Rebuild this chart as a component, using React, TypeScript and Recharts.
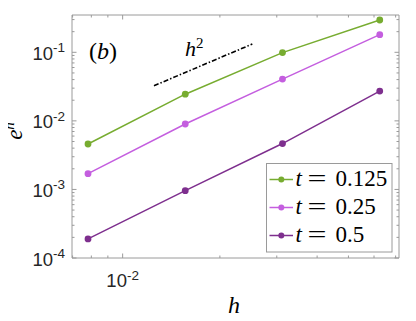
import React from 'react';
import { LineChart, Line, XAxis, YAxis, ReferenceLine, Legend } from 'recharts';

const hValues = [0.0078125, 0.015625, 0.03125, 0.0625];
const errT0125 = [0.0046, 0.0245, 0.099, 0.296];
const errT025 = [0.0017, 0.009, 0.0407, 0.181];
const errT05 = [0.00019, 0.00096, 0.00467, 0.0272];
const seriesKeys = ['a', 'b', 'c'];
const seriesNames = ['0.125', '0.25', '0.5'];
const seriesColors = ['#77AC30', '#C45EDF', '#7E2F8E'];
const xTicks = [0.007, 0.008, 0.009, 0.01, 0.02, 0.03, 0.04, 0.05, 0.06, 0.07];
const yTicks = [
  0.0001, 0.0002, 0.0003, 0.0004, 0.0005, 0.0006, 0.0007, 0.0008, 0.0009,
  0.001, 0.002, 0.003, 0.004, 0.005, 0.006, 0.007, 0.008, 0.009,
  0.01, 0.02, 0.03, 0.04, 0.05, 0.06, 0.07, 0.08, 0.09,
  0.1, 0.2, 0.3,
];
const xDomain = [0.00697, 0.0717];
const yDomain = [0.0001, 0.35];
const slopeRef = [
  { x: 0.0125, y: 0.0325 },
  { x: 0.0252, y: 0.132 },
];

const data = hValues.map((h, i) => ({ h, a: errT0125[i], b: errT025[i], c: errT05[i] }));

const AXIS = '#9a9a9a';
const SANS = '"Liberation Sans", Arial, Helvetica, sans-serif';
const SERIF = '"Liberation Serif", "DejaVu Serif", "Times New Roman", serif';
const MAJ = 4.5;
const MIN = 2.5;
const TICK_FS = 18.5;
const SUP_FS = 13.5;

const lg = (v: number) => Math.log10(v);
const isMajor = (v: number) => Math.abs(lg(v) - Math.round(lg(v))) < 1e-6;
const expOf = (v: number) => Math.round(lg(v));

const TickBottom = (props: any) => {
  const { x, y, payload } = props;
  const v = payload.value;
  const m = isMajor(v);
  return (
    <g>
      <line x1={x} x2={x} y1={y} y2={y - (m ? MAJ : MIN)} stroke={AXIS} strokeWidth={1} />
      {m && (
        <text x={x} y={y + 29} textAnchor="middle" fontFamily={SANS} fontSize={TICK_FS} fill="#262626">
          10<tspan dy={-7.5} fontSize={SUP_FS}>{String(expOf(v))}</tspan>
        </text>
      )}
    </g>
  );
};

const TickTop = (props: any) => {
  const { x, y, payload } = props;
  const m = isMajor(payload.value);
  return <line x1={x} x2={x} y1={y} y2={y + (m ? MAJ : MIN)} stroke={AXIS} strokeWidth={1} />;
};

const TickLeft = (props: any) => {
  const { x, y, payload } = props;
  const v = payload.value;
  const m = isMajor(v);
  return (
    <g>
      <line x1={x} x2={x + (m ? MAJ : MIN)} y1={y} y2={y} stroke={AXIS} strokeWidth={1} />
      {m && (
        <text x={x - 7} y={y + 7.5} textAnchor="end" fontFamily={SANS} fontSize={TICK_FS} fill="#262626">
          10<tspan dy={-7.5} fontSize={SUP_FS}>{String(expOf(v))}</tspan>
        </text>
      )}
    </g>
  );
};

const TickRight = (props: any) => {
  const { x, y, payload } = props;
  const m = isMajor(payload.value);
  return <line x1={x} x2={x - (m ? MAJ : MIN)} y1={y} y2={y} stroke={AXIS} strokeWidth={1} />;
};

const LegendBox = (props: any) => {
  const payload = props.payload || [];
  return (
    <svg width={127} height={90} style={{ display: 'block' }}>
      <rect x={0.5} y={0.5} width={125.5} height={88.5} fill="#fff" stroke={AXIS} strokeWidth={1} />
      {payload.map((p: any, i: number) => {
        const cy = 16.5 + i * 28;
        return (
          <g key={i}>
            <line x1={3.5} x2={27} y1={cy} y2={cy} stroke={p.color} strokeWidth={1.5} />
            <circle cx={15.3} cy={cy} r={3} fill={p.color} />
            <text y={cy + 6.8} fontFamily={SERIF} fontSize={23} fill="#000">
              <tspan x={29.5} fontStyle="italic">t</tspan>
              <tspan x={41.5} textLength={19} lengthAdjust="spacingAndGlyphs">=</tspan>
              <tspan x={69.5}>{p.value}</tspan>
            </text>
          </g>
        );
      })}
    </svg>
  );
};

// plot area: left 72, top 15, right 399, bottom 258 (in a 416x321 frame)
const BOTTOM_AXIS_H = 40;
const TOP_AXIS_H = 5;
const LEFT_AXIS_W = 60;
const RIGHT_AXIS_W = 5;

export default function App() {
  return (
    <div style={{ position: 'relative', width: 416, height: 321, margin: -8, background: '#fff' }}>
      <LineChart
        width={416}
        height={321}
        data={data}
        margin={{
          top: 15 - TOP_AXIS_H,
          right: 17 - RIGHT_AXIS_W,
          bottom: 63 - BOTTOM_AXIS_H,
          left: 72 - LEFT_AXIS_W,
        }}
      >
        <XAxis
          xAxisId="b"
          dataKey="h"
          type="number"
          scale="log"
          domain={xDomain}
          allowDataOverflow
          ticks={xTicks}
          interval={0}
          height={BOTTOM_AXIS_H}
          tickSize={0}
          tickMargin={0}
          tickLine={false}
          axisLine={{ stroke: AXIS, strokeWidth: 1 }}
          tick={<TickBottom />}
        />
        <XAxis
          xAxisId="t"
          orientation="top"
          dataKey="h"
          type="number"
          scale="log"
          domain={xDomain}
          allowDataOverflow
          ticks={xTicks}
          interval={0}
          height={TOP_AXIS_H}
          tickSize={0}
          tickMargin={0}
          tickLine={false}
          axisLine={{ stroke: AXIS, strokeWidth: 1 }}
          tick={<TickTop />}
        />
        <YAxis
          yAxisId="l"
          type="number"
          scale="log"
          domain={yDomain}
          allowDataOverflow
          ticks={yTicks}
          interval={0}
          width={LEFT_AXIS_W}
          tickSize={0}
          tickMargin={0}
          tickLine={false}
          axisLine={{ stroke: AXIS, strokeWidth: 1 }}
          tick={<TickLeft />}
        />
        <YAxis
          yAxisId="r"
          orientation="right"
          type="number"
          scale="log"
          domain={yDomain}
          allowDataOverflow
          ticks={yTicks}
          interval={0}
          width={RIGHT_AXIS_W}
          tickSize={0}
          tickMargin={0}
          tickLine={false}
          axisLine={{ stroke: AXIS, strokeWidth: 1 }}
          tick={<TickRight />}
        />
        <ReferenceLine
          xAxisId="b"
          yAxisId="l"
          segment={slopeRef}
          stroke="#000"
          strokeWidth={1.6}
          strokeDasharray="5 2 1.5 2"
        />
        {seriesKeys.map((k, i) => (
          <Line
            key={k}
            xAxisId="b"
            yAxisId="l"
            dataKey={k}
            name={seriesNames[i]}
            stroke={seriesColors[i]}
            strokeWidth={1.5}
            dot={{ r: 3.4, fill: seriesColors[i], stroke: seriesColors[i], strokeWidth: 0 }}
            isAnimationActive={false}
          />
        ))}
        <Legend
          layout="vertical"
          align="center"
          verticalAlign="middle"
          content={<LegendBox />}
          wrapperStyle={{ left: 265.5, top: 162.5, width: 127, height: 90 }}
        />
      </LineChart>
      <svg
        width={416}
        height={321}
        style={{ position: 'absolute', left: 0, top: 0, pointerEvents: 'none' }}
      >
        <text x={89} y={59} fontFamily={SERIF} fontSize={24} fill="#000">
          (<tspan fontStyle="italic">b</tspan>)
        </text>
        <text x={185} y={56} fontFamily={SERIF} fontSize={22} fill="#000">
          <tspan fontStyle="italic">h</tspan>
          <tspan dy={-8.5} fontSize={15}>2</tspan>
        </text>
        <text x={234} y={313} textAnchor="middle" fontFamily={SERIF} fontSize={24} fontStyle="italic" fill="#000">
          h
        </text>
        <text
          transform="translate(21.5,131) rotate(-90)"
          x={0}
          y={0}
          textAnchor="middle"
          fontFamily={SERIF}
          fontSize={23}
          fill="#000"
        >
          <tspan fontStyle="italic">e</tspan>
          <tspan dy={-7.5} fontSize={15} fontStyle="italic">h</tspan>
        </text>
      </svg>
    </div>
  );
}
